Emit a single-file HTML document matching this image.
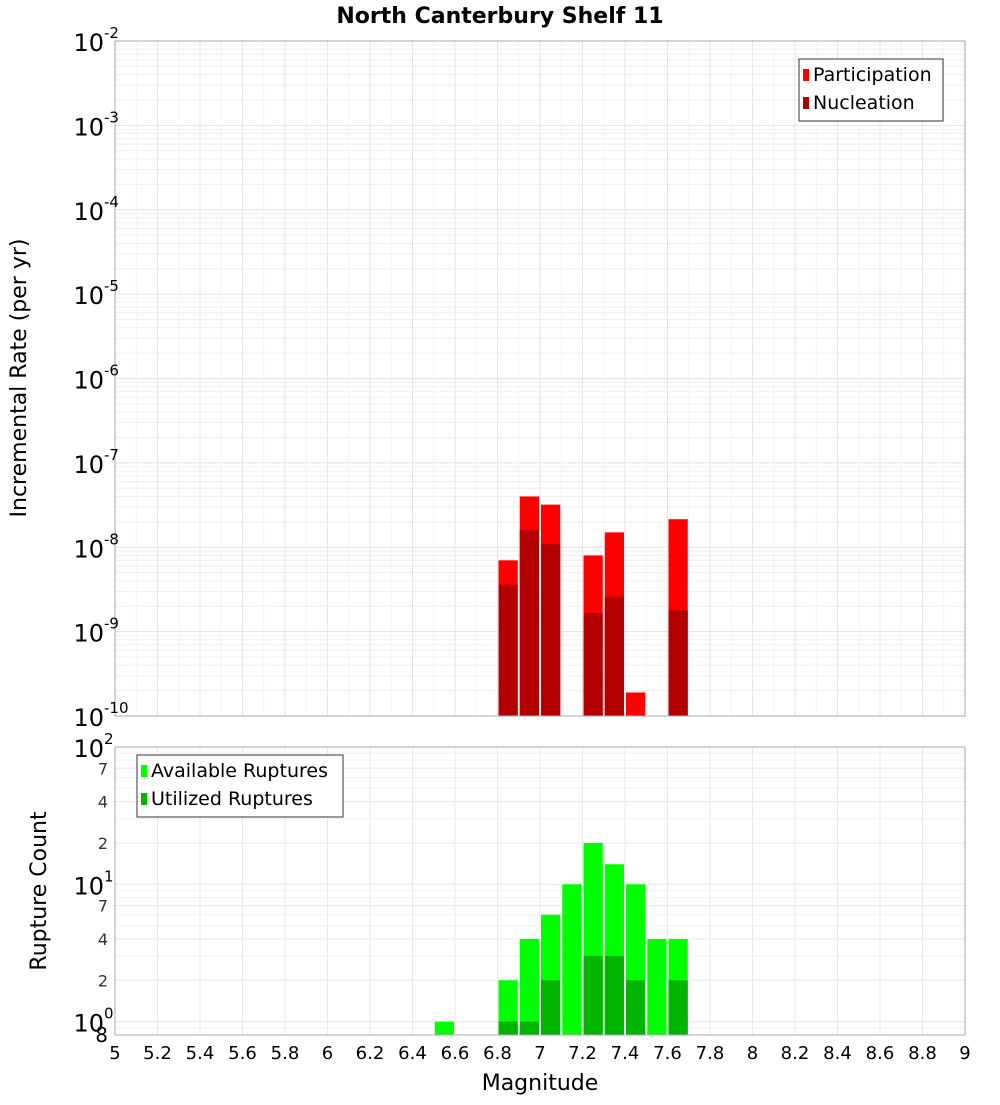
<!DOCTYPE html>
<html><head><meta charset="utf-8"><style>
body{margin:0;background:#fff;width:1000px;height:1100px;overflow:hidden}
text{font-family:"DejaVu Sans","Liberation Sans",sans-serif}
</style></head><body>
<svg id="chart" width="1000" height="1100" xmlns="http://www.w3.org/2000/svg">
<text x="500" y="23" text-anchor="middle" font-size="22" font-weight="bold">North Canterbury Shelf 11</text>
<g id="topG"></g><g id="botG"></g>
<text transform="translate(26,378) rotate(-90)" text-anchor="middle" font-size="22">Incremental Rate (per yr)</text>
<text transform="translate(46,891) rotate(-90)" text-anchor="middle" font-size="22">Rupture Count</text>
<text x="540" y="1090" text-anchor="middle" font-size="22">Magnitude</text>
</svg>
<script>
const binCenters=[6.55,6.85,6.95,7.05,7.15,7.25,7.35,7.45,7.55,7.65];
const participation=[0,7e-9,4e-8,3.2e-8,0,8e-9,1.5e-8,1.9e-10,0,2.15e-8];
const nucleation=[0,3.6e-9,1.6e-8,1.1e-8,0,1.66e-9,2.6e-9,0,0,1.8e-9];
const available=[1,2,4,6,10,20,14,10,4,4];
const utilized=[0,1,1,2,0,3,3,2,0,2];
const xTicks=["5","5.2","5.4","5.6","5.8","6","6.2","6.4","6.6","6.8","7","7.2","7.4","7.6","7.8","8","8.2","8.4","8.6","8.8","9"];
const NS="http://www.w3.org/2000/svg";
const X0=115,X1=965;
const sx=m=>X0+(m-5)/4*(X1-X0);
const tyT=v=>41+(-2-Math.log10(v))*84.375;
const tyB=v=>747+(2-Math.log10(v))*137.3;
function el(p,t,a){const e=document.createElementNS(NS,t);for(const k in a)e.setAttribute(k,a[k]);p.appendChild(e);return e;}
const topG=document.getElementById('topG'),botG=document.getElementById('botG');
for(let d=-10;d<-2;d++)for(let k=1;k<10;k++){const y=tyT(k*Math.pow(10,d));const g=el(topG,'line',{x1:X0,x2:X1,y1:y,y2:y,stroke:k==1?'#e2e2e2':'#efefef'});

}
for(let i=0;i<=40;i++){const x=sx(5+i*0.1);const g=el(topG,'line',{x1:x,x2:x,y1:41,y2:716,stroke:i%2?'#f3f3f3':'#e6e6e6'});

}
[100,70,40,20,10,7,4,2,1].forEach(v=>{const y=tyB(v);const g=el(botG,'line',{x1:X0,x2:X1,y1:y,y2:y,stroke:'#e8e8e8'});

});
[90,80,60,50,30,9,8,6,5,3,0.9].forEach(v=>{const y=tyB(v);const g=el(botG,'line',{x1:X0,x2:X1,y1:y,y2:y,stroke:'#f2f2f2'});

});
for(let i=0;i<=20;i++){const x=sx(5+i*0.2);const g=el(botG,'line',{x1:x,x2:x,y1:747,y2:1035,stroke:'#e8e8e8'});

}
binCenters.forEach((c,i)=>{
 const xa=sx(c-0.05)+1,w=sx(c+0.05)-sx(c-0.05)-2;
 if(participation[i]>0){const y=tyT(participation[i]);const r=el(topG,'rect',{x:xa,y:y,width:w,height:716-y,fill:'#ff0000'});
 
 }
 if(nucleation[i]>0){const y=tyT(nucleation[i]);const r=el(topG,'rect',{x:xa,y:y,width:w,height:716-y,fill:'#b40000'});
 
 }
 if(available[i]>0){const y=tyB(available[i]);const r=el(botG,'rect',{x:xa,y:y,width:w,height:1035-y,fill:'#00ff00'});
 
 }
 if(utilized[i]>0){const y=tyB(utilized[i]);const r=el(botG,'rect',{x:xa,y:y,width:w,height:1035-y,fill:'#00b400'});
 
 }
});
let f=el(topG,'rect',{x:X0,y:41,width:X1-X0,height:675,fill:'none',stroke:'#aaa'});


f=el(botG,'rect',{x:X0,y:747,width:X1-X0,height:288,fill:'none',stroke:'#aaa'});


for(let d=-10;d<=-2;d++){const y=tyT(Math.pow(10,d));
 const t=el(topG,'text',{x:104,y:y+10,'text-anchor':'end','font-size':24});t.textContent='10';
 
 
 const s=el(topG,'text',{x:104,y:y-3,'font-size':15});s.textContent=String(d);
 
 }
[[100,'10','2'],[10,'10','1'],[1,'10','0']].forEach(([v,b,e])=>{const y=tyB(v);
 const t=el(botG,'text',{x:104,y:y+10,'text-anchor':'end','font-size':24});t.textContent=b;
 
 
 const s=el(botG,'text',{x:104,y:y-3,'font-size':15});s.textContent=e;
 
 });
[[70,'7'],[40,'4'],[20,'2'],[7,'7'],[4,'4'],[2,'2']].forEach(([v,l])=>{const y=tyB(v);
 const t=el(botG,'text',{x:108,y:y+6,'text-anchor':'end','font-size':16,fill:'#333'});t.textContent=l;
 
 });
{const t=el(botG,'text',{x:108,y:1042,'text-anchor':'end','font-size':20});t.textContent='8';
 
 }
xTicks.forEach(l=>{const t=el(botG,'text',{x:sx(parseFloat(l)),y:1059,'text-anchor':'middle','font-size':18});t.textContent=l;
 
 });
function legend(p,x,y,w,items,name){const g=el(p,'g',{});
 
 
 el(g,'rect',{x:x,y:y,width:w,height:items.length*28+6,fill:'#fff',stroke:'#333'});
 items.forEach(([c,l],i)=>{el(g,'rect',{x:x+4,y:y+10+i*28,width:6,height:12,fill:c});
 const t=el(g,'text',{x:x+14,y:y+22+i*28,'font-size':19});t.textContent=l;});}
legend(topG,799,59,144,[['#ff0000','Participation'],['#b40000','Nucleation']],'top-legend');
legend(botG,137,755,206,[['#00ff00','Available Ruptures'],['#00b400','Utilized Ruptures']],'bottom-legend');
</script>
</body></html>
